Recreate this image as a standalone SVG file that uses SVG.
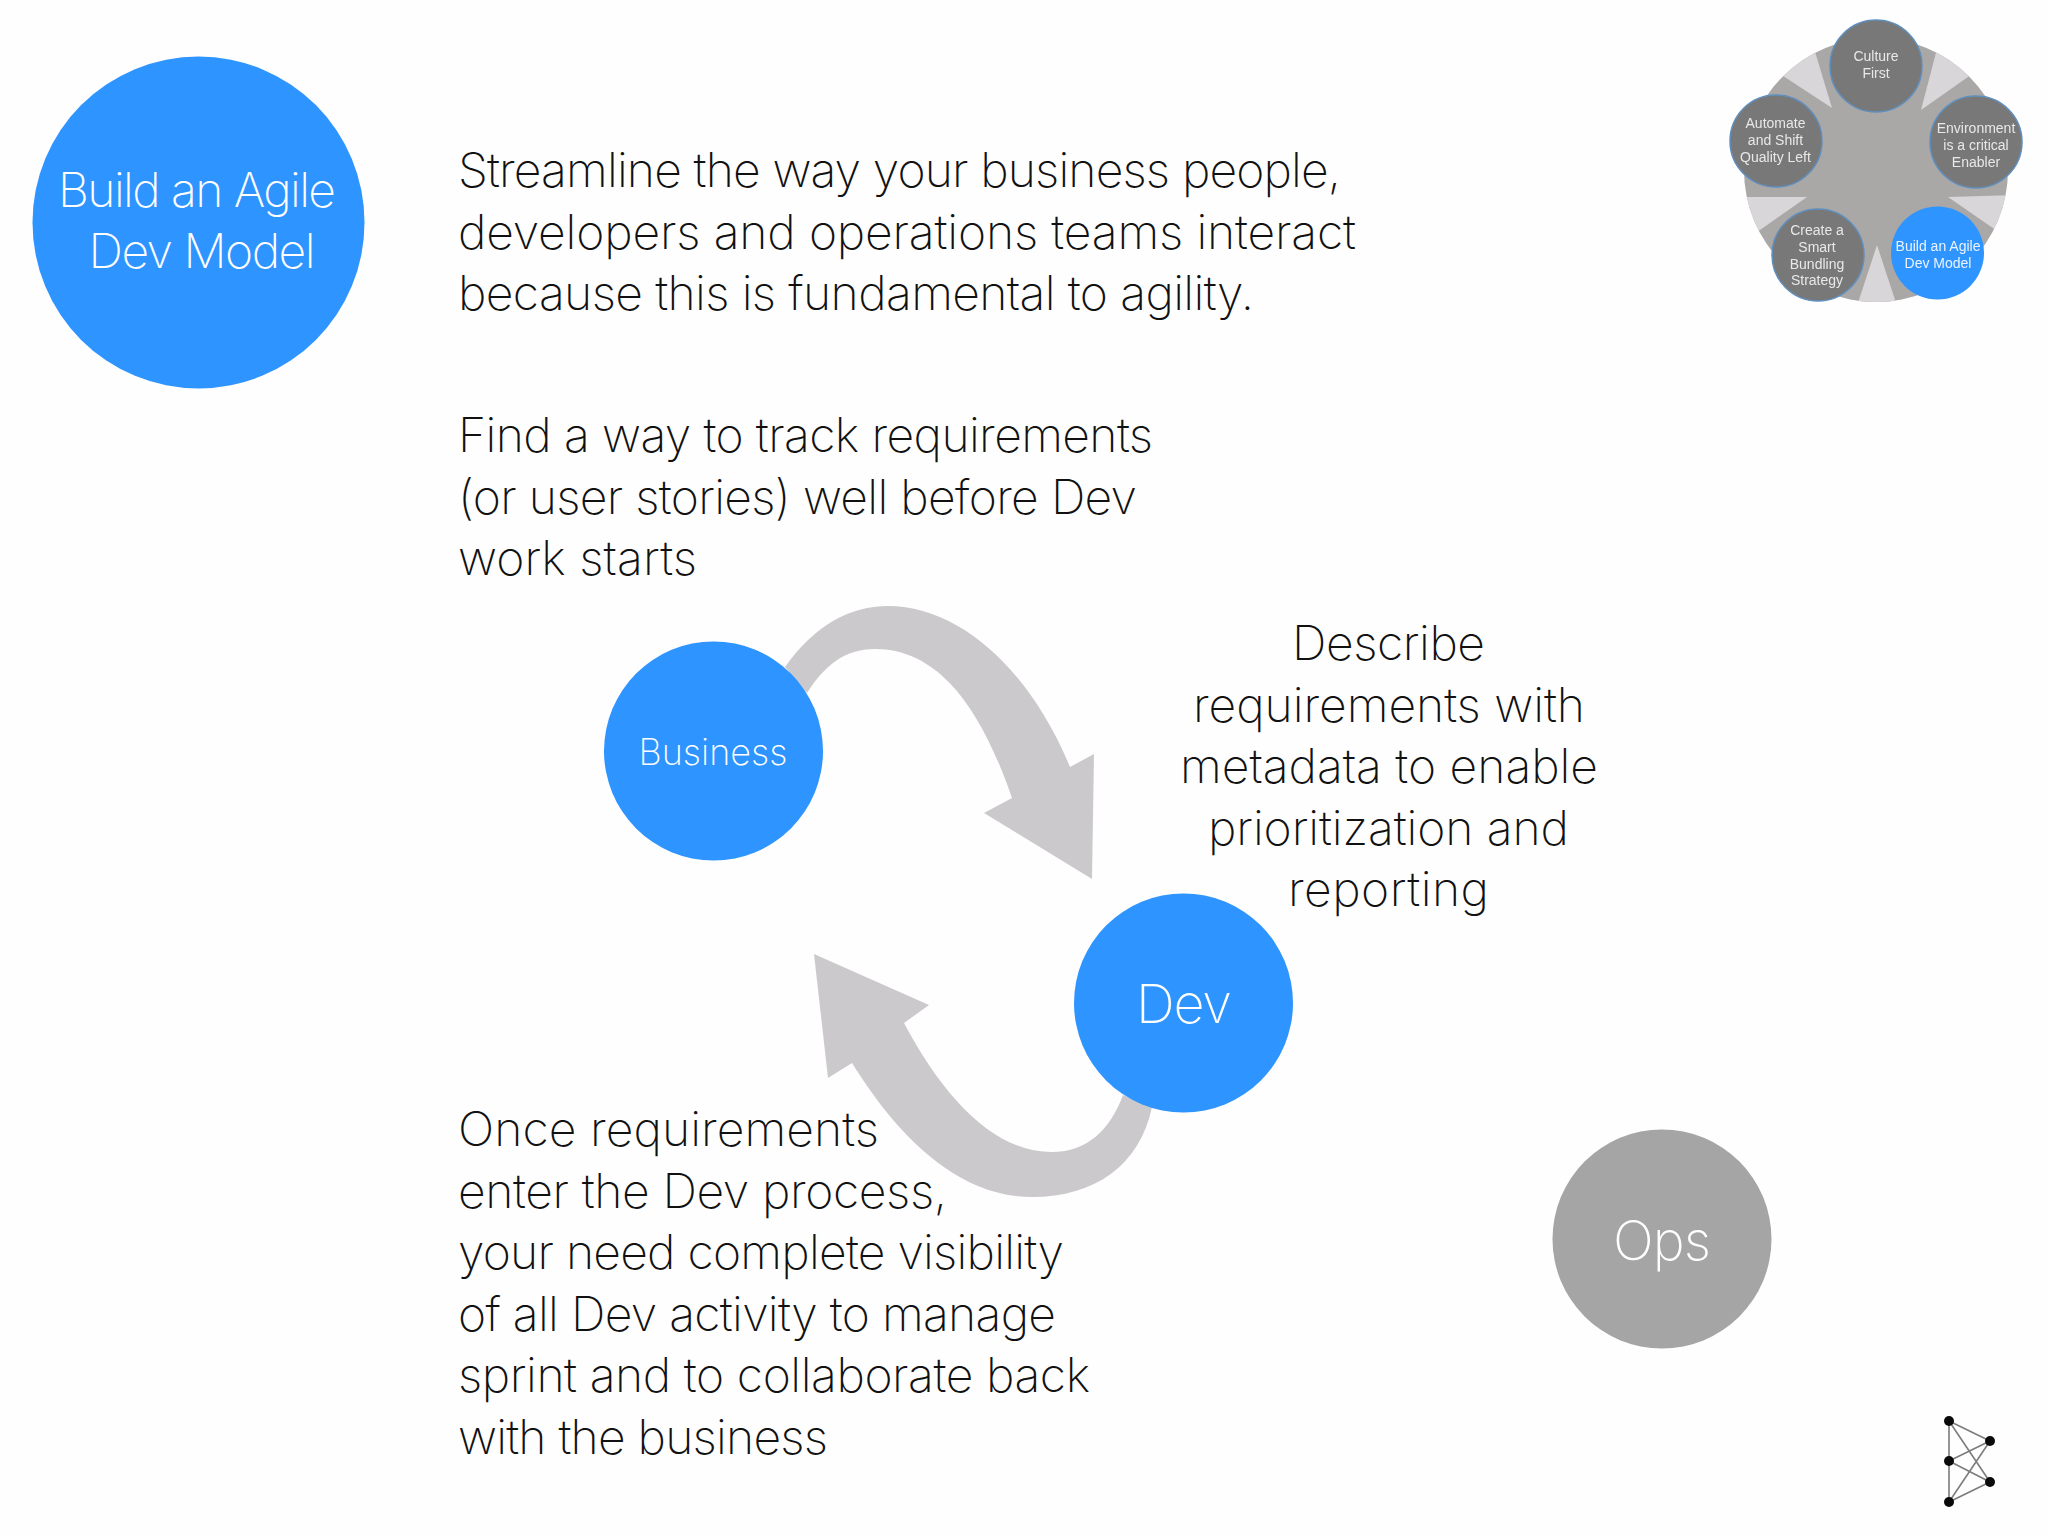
<svg xmlns="http://www.w3.org/2000/svg" width="2048" height="1536" viewBox="0 0 2048 1536">
<style>
.t{font-family:"Inter","Lato","Liberation Sans",sans-serif;font-weight:200;font-size:48px;fill:#111;font-variant-ligatures:none}
.w{font-family:"Inter","Lato","Liberation Sans",sans-serif;font-weight:200;fill:#fff;text-anchor:middle;font-variant-ligatures:none}
.m{font-family:"Liberation Sans",Arial,sans-serif;font-size:14px;fill:#e8e8e8;text-anchor:middle}
.blue{fill:#2e94ff}
.arrow{fill:#cbc9cc}
.n{fill:#787878;stroke:#5f8fbe;stroke-width:1.5}
.wedge{fill:#d8d6d8}
.l{stroke:#7c7c7c;stroke-width:1.6}
</style>
<defs><clipPath id="disc"><circle cx="1876" cy="170" r="132"/></clipPath>
<filter id="soft" x="-5%" y="-5%" width="110%" height="110%"><feGaussianBlur stdDeviation="0.5"/></filter></defs>
<rect width="2048" height="1536" fill="#fefefe"/>
<g id="connectors">
<path class="arrow" d="M785 667C815 625 850 606 888 606C960 606 1030 670 1070 767L1094 754L1092 879L984 813L1012 798C985 720 945 649 875 649C845 649 825 665 807 693Z"/>
<path class="arrow" d="M814 954L929 1005L904 1023C945 1100 995 1152 1052 1152C1087 1152 1110 1130 1123 1095L1152 1107C1140 1165 1095 1197 1032 1197C960 1197 900 1140 852 1063L828 1078Z"/>
</g>
<g id="node-build"><circle class="blue" cx="198.500" cy="222.500" r="166"/>
<text class="w" font-size="48" x="197" y="207" textLength="278" lengthAdjust="spacing">Build an Agile</text>
<text class="w" font-size="48" x="202" y="268" textLength="227" lengthAdjust="spacing">Dev Model</text></g>
<g id="node-business"><circle class="blue" cx="713.500" cy="751" r="109.500"/><text class="w" font-size="36" x="713" y="765" textLength="149" lengthAdjust="spacing">Business</text></g>
<g id="node-dev"><circle class="blue" cx="1183.500" cy="1003" r="109.500"/><text class="w" font-size="54" x="1184" y="1023" textLength="96" lengthAdjust="spacing">Dev</text></g>
<g id="node-ops"><circle cx="1662" cy="1239" r="109.500" fill="#a6a5a6"/><text class="w" font-size="54" x="1662" y="1260" textLength="98" lengthAdjust="spacing">Ops</text></g>
<g id="text-main">
<text class="t" x="458" y="187" textLength="883" lengthAdjust="spacing">Streamline the way your business people,</text>
<text class="t" x="458" y="248.500" textLength="898" lengthAdjust="spacing">developers and operations teams interact</text>
<text class="t" x="458" y="310" textLength="796" lengthAdjust="spacing">because this is fundamental to agility.</text>
<text class="t" x="458" y="452" textLength="695" lengthAdjust="spacing">Find a way to track requirements</text>
<text class="t" x="458" y="514" textLength="679" lengthAdjust="spacing">(or user stories) well before Dev</text>
<text class="t" x="458" y="575" textLength="239" lengthAdjust="spacing">work starts</text>
<text class="t" x="1292" y="660" textLength="193" lengthAdjust="spacing">Describe</text>
<text class="t" x="1193" y="722" textLength="392" lengthAdjust="spacing">requirements with</text>
<text class="t" x="1180" y="783" textLength="418" lengthAdjust="spacing">metadata to enable</text>
<text class="t" x="1208" y="845" textLength="361" lengthAdjust="spacing">prioritization and</text>
<text class="t" x="1288" y="906" textLength="201" lengthAdjust="spacing">reporting</text>
<text class="t" x="458" y="1146" textLength="421" lengthAdjust="spacing">Once requirements</text>
<text class="t" x="458" y="1208" textLength="489" lengthAdjust="spacing">enter the Dev process,</text>
<text class="t" x="458" y="1269" textLength="606" lengthAdjust="spacing">your need complete visibility</text>
<text class="t" x="458" y="1331" textLength="598" lengthAdjust="spacing">of all Dev activity to manage</text>
<text class="t" x="458" y="1392" textLength="632" lengthAdjust="spacing">sprint and to collaborate back</text>
<text class="t" x="458" y="1454" textLength="370" lengthAdjust="spacing">with the business</text>
</g>
<g id="model-thumbnail" filter="url(#soft)">
<circle cx="1876" cy="170" r="132" fill="#aaa7a7"/>
<g clip-path="url(#disc)">
<polygon class="wedge" points="1938,45 1975,72 1921,110"/>
<polygon class="wedge" points="1813,45 1777,72 1832,108"/>
<polygon class="wedge" points="1948,197 2016,195 2003,235"/>
<polygon class="wedge" points="1807,197 1738,197 1750,237"/>
<polygon class="wedge" points="1877,245 1899,312 1855,312"/>
</g>
<g id="thumb-culture"><circle class="n" cx="1876" cy="66" r="46"/><text class="m" x="1876" y="61">Culture</text><text class="m" x="1876" y="78">First</text></g>
<g id="thumb-environment"><circle class="n" cx="1976" cy="142" r="46"/><text class="m" x="1976" y="133">Environment</text><text class="m" x="1976" y="150">is a critical</text><text class="m" x="1976" y="167">Enabler</text></g>
<g id="thumb-build"><circle cx="1937.500" cy="253" r="46.500" class="blue"/><text class="m" x="1938" y="251" style="fill:#eaf3ff">Build an Agile</text><text class="m" x="1938" y="268" style="fill:#eaf3ff">Dev Model</text></g>
<g id="thumb-create"><circle class="n" cx="1818" cy="255" r="46"/><text class="m" x="1817" y="234.500">Create a</text><text class="m" x="1817" y="251.500">Smart</text><text class="m" x="1817" y="268.500">Bundling</text><text class="m" x="1817" y="285">Strategy</text></g>
<g id="thumb-automate"><circle class="n" cx="1776" cy="141" r="46"/><text class="m" x="1775.500" y="128">Automate</text><text class="m" x="1775.500" y="144.500">and Shift</text><text class="m" x="1775.500" y="162">Quality Left</text></g>
</g>
<g id="logo">
<path class="l" fill="none" d="M1949 1421V1502M1949 1421L1990 1441M1949 1421L1990 1482M1949 1461L1990 1441M1949 1461L1990 1482M1949 1502L1990 1441M1949 1502L1990 1482"/>
<g fill="#0a0a0a"><circle cx="1949" cy="1421" r="5"/><circle cx="1990" cy="1441" r="5"/><circle cx="1949" cy="1461" r="5"/><circle cx="1990" cy="1482" r="5"/><circle cx="1949" cy="1502" r="5"/></g>
</g>
</svg>
